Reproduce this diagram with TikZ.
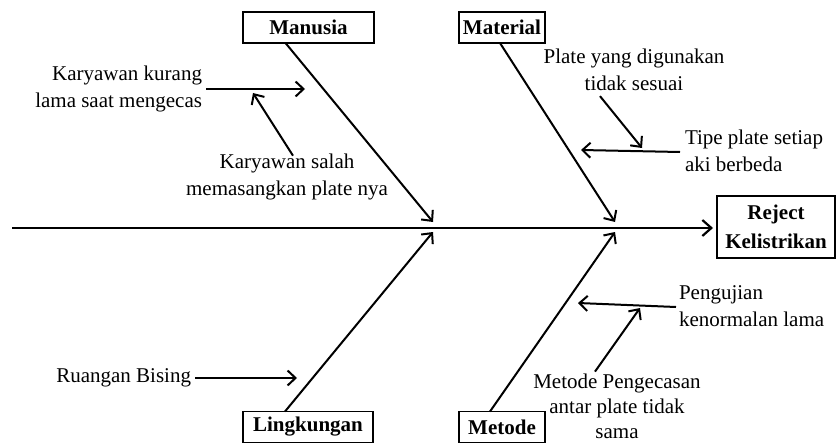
\documentclass[tikz,border=0pt]{standalone}
\usepackage{fontspec}
\setmainfont{Liberation Serif}
\usetikzlibrary{arrows.meta}
\begin{document}
\begin{tikzpicture}[x=1pt,y=-1pt,
  every node/.style={inner sep=0pt,outer sep=0pt},
  txt/.style={font=\fontsize{21}{27.5}\selectfont},
  catbox/.style={draw,line width=1.4pt,font=\fontsize{21}{28}\selectfont\bfseries,minimum height=31pt},
  sub/.style={line width=2pt,-{Straight Barb[length=8pt,width=15pt,line width=2pt]}},
  spine/.style={line width=2.4pt,-{Straight Barb[length=9pt,width=16pt,line width=2.2pt]}}]
\useasboundingbox (0,0) rectangle (836,444);

% categories
\node[catbox,minimum width=131pt] (man) at (308.5,27.5) {Manusia};
\node[catbox,minimum width=86pt] (mat) at (502,27.5) {Material};
\node[catbox,minimum width=130pt] (lin) at (308,427) {Lingkungan};
\node[catbox,minimum width=86pt] (met) at (502,427) {Metode};

% effect
\node[draw,line width=1.4pt,minimum width=118pt,minimum height=62pt,align=center,
      font=\fontsize{21}{29}\selectfont\bfseries] (eff) at (776,227) {Reject\\Kelistrikan};

% spine
\coordinate (tail) at (12,228);
\draw[spine] (tail) -- ([xshift=-4pt]eff.west |- tail);

% joints on the spine
\coordinate (jmanu) at (433,222);
\coordinate (jmate) at (615,222);
\coordinate (jling) at (433,232);
\coordinate (jmeto) at (615,232);

\draw[sub] ([xshift=-23pt]man.south) -- (jmanu);
\draw[sub] ([xshift=-2pt]mat.south) -- (jmate);
\draw[sub] ([xshift=-23pt]lin.north) -- (jling);
\draw[sub] ([xshift=-12pt]met.north) -- (jmeto);

% Manusia causes
\node[txt,align=right,anchor=east] (k1) at (202,89) {Karyawan kurang\\lama saat mengecas};
\node[txt,align=center] (k2) at (287,177) {Karyawan salah\\memasangkan plate nya};
\coordinate (k1tip) at (305,89);
\coordinate (k2tip) at (253,93);
\draw[sub] ([xshift=4pt]k1.east) -- (k1tip);
\draw[sub] ([xshift=6pt,yshift=-2pt]k2.north) -- (k2tip);

% Material causes
\node[txt,align=center] (m1) at (634,70) {Plate yang digunakan\\tidak sesuai};
\node[txt,align=left,anchor=west] (m2) at (685,151) {Tipe plate setiap\\aki berbeda};
\coordinate (m1tip) at (642,148);
\coordinate (m2tip) at (581,150);
\draw[sub] ([xshift=-34pt,yshift=-5pt]m1.south) -- (m1tip);
\draw[sub] ([xshift=-5pt,yshift=-1pt]m2.west) -- (m2tip);

% Lingkungan cause
\node[txt,anchor=east] (l1) at (191,378) {Ruangan Bising};
\coordinate (l1tip) at (297,378);
\draw[sub] ([xshift=4pt]l1.east) -- (l1tip);

% Metode causes
\node[txt,align=left,anchor=west] (t1) at (679,306) {Pengujian\\kenormalan lama};
\node[txt,align=center,font=\fontsize{21}{25}\selectfont] (t2) at (617,406) {Metode Pengecasan\\antar plate tidak\\sama};
\coordinate (t1tip) at (578,303);
\coordinate (t2tip) at (640,308);
\draw[sub] ([xshift=-22pt,yshift=2pt]t2.north) -- (t2tip);
\draw[sub] ([xshift=-3pt,yshift=-1pt]t1.west) -- (t1tip);
\end{tikzpicture}
\end{document}
